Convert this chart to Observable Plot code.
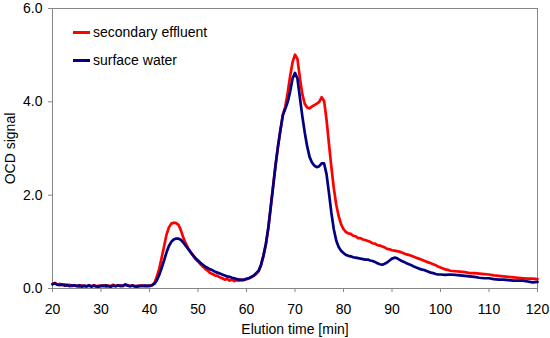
<!DOCTYPE html>
<html>
<head>
<meta charset="utf-8">
<script src="https://cdn.jsdelivr.net/npm/d3@7"></script>
<script src="https://cdn.jsdelivr.net/npm/@observablehq/plot@0.6"></script>
<style>
  html, body { margin: 0; padding: 0; background: #fff; }
  #wrap { position: relative; width: 550px; height: 338px; font-family: "Liberation Sans", Arial, sans-serif; }
  #legend { position: absolute; left: 73px; top: 22px; font-size: 14px; color: #000; }
  .item { display: flex; align-items: center; height: 20px; margin-bottom: 8px; }
  .sw { width: 17px; height: 0; border-top: 3px solid; margin-right: 3px; }
</style>
</head>
<body>
<div id="wrap"><div id="legend"></div></div>
<script>
const seriesNames = ["secondary effluent", "surface water"];
const seriesColors = ["#FF0000", "#000080"];
const xTicks = [20, 30, 40, 50, 60, 70, 80, 90, 100, 110, 120];
const yTicks = [0, 2, 4, 6];

const redTime = [20,20.5,21,21.5,22,22.5,23,23.5,24,24.5,25,25.5,26,26.5,27,27.5,28,28.5,29,29.5,30,30.5,31,31.5,32,32.5,33,33.5,34,34.5,35,35.5,36,36.5,37,37.5,38,38.5,39,39.5,40,40.5,
  41,41.5,42,42.5,43,43.5,44,44.5,45,45.5,46,46.5,47,47.5,48,48.5,49,49.5,50,50.5,51,51.5,52,52.5,53,53.5,54,54.5,55,55.5,56,56.5,57,57.5,58,58.5,59,59.5,60,60.5,61,61.5,62,62.5,63,63.5,64,64.5,65,65.5,66,66.5,67,67.5,68,68.5,69,69.5,70,70.5,71,71.5,72,72.5,73,73.5,74,74.5,75,75.5,76,76.5,77,77.5,78,78.5,79,79.5,80,80.5,81,81.5,82,82.5,83,83.5,84,84.5,85,85.5,86,86.5,87,87.5,88,88.5,89,89.5,90,90.5,91,91.5,92,92.5,93,93.5,94,94.5,95,95.5,96,96.5,97,97.5,98,98.5,99,99.5,100,100.5,101,101.5,102,103,104,105,106,107,108,109,110,111,112,113,114,115,116,117,118,119,120];
const redSignal = [0.10,0.12,0.08,0.10,0.07,0.09,0.06,0.08,0.05,0.07,0.06,0.04,0.07,0.05,0.04,0.06,0.05,0.07,0.04,0.06,0.05,0.07,0.04,0.06,0.05,0.08,0.05,0.06,0.07,0.05,0.09,0.07,0.05,0.06,0.04,0.06,0.05,0.07,0.05,0.06,0.05,0.07,
  0.12,0.25,0.42,0.66,0.90,1.15,1.31,1.39,1.41,1.40,1.36,1.24,1.08,0.96,0.86,0.78,0.70,0.63,0.58,0.52,0.47,0.42,0.38,0.33,0.31,0.28,0.27,0.24,0.22,0.19,0.21,0.17,0.19,0.16,0.18,0.17,0.19,0.18,0.20,0.22,0.24,0.27,0.31,0.37,0.50,0.70,0.95,1.30,1.75,2.20,2.65,3.05,3.40,3.72,3.90,4.20,4.55,4.85,5.01,4.92,4.52,4.17,3.96,3.88,3.86,3.90,3.93,3.96,4.00,4.10,4.02,3.62,3.10,2.60,2.15,1.80,1.55,1.38,1.27,1.21,1.18,1.17,1.13,1.12,1.08,1.08,1.05,1.04,1.02,1.00,0.97,0.96,0.93,0.92,0.90,0.88,0.85,0.84,0.82,0.81,0.80,0.79,0.77,0.75,0.73,0.72,0.70,0.68,0.66,0.64,0.62,0.60,0.58,0.56,0.54,0.52,0.50,0.47,0.45,0.43,0.41,0.40,0.38,0.37,0.36,0.35,0.33,0.33,0.32,0.31,0.30,0.28,0.27,0.26,0.25,0.24,0.23,0.22,0.21,0.21,0.20];

const blueTime = [20,20.5,21,21.5,22,22.5,23,23.5,24,24.5,25,25.5,26,26.5,27,27.5,28,28.5,29,29.5,30,30.5,31,31.5,32,32.5,33,33.5,34,34.5,35,35.5,36,36.5,37,37.5,38,38.5,39,39.5,40,40.5,
  41,41.5,42,42.5,43,43.5,44,44.5,45,45.5,46,46.5,47,47.5,48,48.5,49,49.5,50,50.5,51,51.5,52,52.5,53,53.5,54,54.5,55,55.5,56,56.5,57,57.5,58,58.5,59,59.5,60,60.5,61,61.5,62,62.5,63,63.5,64,64.5,65,65.5,66,66.5,67,67.5,68,68.5,69,69.5,70,70.5,71,71.5,72,72.5,73,73.5,74,74.5,75,75.5,76,76.5,77,77.5,78,78.5,79,79.5,80,80.5,81,81.5,82,82.5,83,83.5,84,84.5,85,85.5,86,86.5,87,87.5,88,88.5,89,89.5,90,90.5,91,91.5,92,92.5,93,93.5,94,94.5,95,95.5,96,96.5,97,97.5,98,98.5,99,99.5,100,101,102,103,104,105,106,107,108,109,110,111,112,113,114,115,116,117,118,119,120];
const blueSignal = [0.09,0.11,0.08,0.07,0.09,0.06,0.08,0.05,0.07,0.06,0.05,0.07,0.04,0.06,0.05,0.07,0.04,0.06,0.05,0.04,0.06,0.05,0.07,0.05,0.04,0.06,0.05,0.07,0.05,0.06,0.08,0.06,0.05,0.07,0.05,0.04,0.06,0.05,0.06,0.05,0.06,0.07,
  0.10,0.17,0.29,0.44,0.60,0.77,0.91,1.00,1.05,1.07,1.07,1.04,0.98,0.91,0.84,0.77,0.71,0.65,0.60,0.55,0.51,0.47,0.44,0.41,0.39,0.36,0.34,0.32,0.30,0.28,0.26,0.25,0.23,0.22,0.20,0.19,0.18,0.19,0.21,0.22,0.25,0.28,0.33,0.38,0.51,0.71,0.96,1.30,1.75,2.20,2.65,3.05,3.40,3.72,3.85,4.00,4.22,4.50,4.62,4.50,4.10,3.70,3.35,3.05,2.82,2.70,2.63,2.60,2.62,2.68,2.68,2.45,2.05,1.62,1.27,1.03,0.89,0.81,0.76,0.72,0.70,0.69,0.67,0.66,0.65,0.64,0.63,0.62,0.62,0.60,0.59,0.57,0.54,0.52,0.51,0.53,0.56,0.60,0.64,0.66,0.65,0.62,0.59,0.57,0.54,0.52,0.50,0.47,0.45,0.43,0.41,0.40,0.38,0.36,0.34,0.33,0.31,0.30,0.30,0.29,0.30,0.29,0.28,0.27,0.26,0.25,0.23,0.22,0.22,0.20,0.19,0.19,0.18,0.17,0.17,0.17,0.15,0.13,0.14];

const axisGray = "#868686";
const chart = Plot.plot({
  width: 550,
  height: 338,
  marginLeft: 52,
  marginRight: 13,
  marginTop: 8,
  marginBottom: 50,
  style: { fontFamily: "Liberation Sans, Arial, sans-serif", fontSize: "14px", background: "white", color: "black" },
  x: { domain: [20, 120] },
  y: { domain: [0, 6] },
  marks: [
    Plot.frame({ stroke: axisGray, strokeWidth: 1 }),
    Plot.axisX({ ticks: xTicks, tickSize: 4, tickPadding: 12, stroke: axisGray, fill: "black", fontSize: 14,
      label: "Elution time [min]", labelAnchor: "center", labelOffset: 45, labelArrow: "none" }),
    Plot.axisY({ ticks: yTicks, tickSize: 4, tickPadding: 6, tickFormat: d3.format(".1f"), stroke: axisGray, fill: "black", fontSize: 14,
      label: "OCD signal", labelAnchor: "center", labelOffset: 47, labelArrow: "none" }),
    Plot.line(redTime, { x: redTime, y: redSignal, stroke: seriesColors[0], strokeWidth: 2.7 }),
    Plot.line(blueTime, { x: blueTime, y: blueSignal, stroke: seriesColors[1], strokeWidth: 2.7 })
  ]
});
const wrap = document.getElementById("wrap");
wrap.insertBefore(chart, wrap.firstChild);

const legend = document.getElementById("legend");
seriesNames.forEach((name, i) => {
  const item = document.createElement("div");
  item.className = "item";
  const sw = document.createElement("span");
  sw.className = "sw";
  sw.style.borderTopColor = seriesColors[i];
  const label = document.createElement("span");
  label.textContent = name;
  item.appendChild(sw);
  item.appendChild(label);
  legend.appendChild(item);
});
</script>
</body>
</html>
